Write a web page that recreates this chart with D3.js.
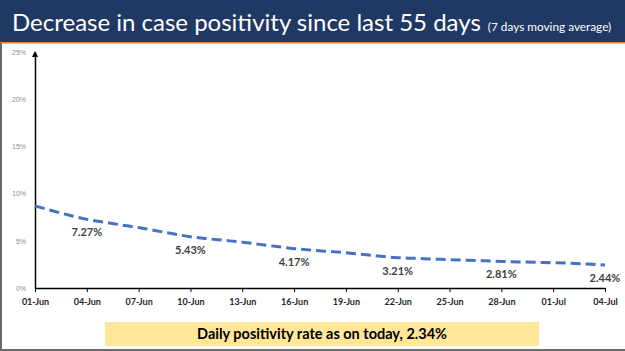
<!DOCTYPE html>
<html>
<head>
<meta charset="utf-8">
<script src="https://cdn.jsdelivr.net/npm/d3@7"></script>
<style>
  html, body { margin: 0; padding: 0; background: #fff; }
  svg { display: block; }
</style>
</head>
<body>
<svg id="chart"></svg>
<script>
// 每日日期（6月1日 - 7月4日）
const days = [
  "2021-06-01", "2021-06-02", "2021-06-03", "2021-06-04", "2021-06-05",
  "2021-06-06", "2021-06-07", "2021-06-08", "2021-06-09", "2021-06-10",
  "2021-06-11", "2021-06-12", "2021-06-13", "2021-06-14", "2021-06-15",
  "2021-06-16", "2021-06-17", "2021-06-18", "2021-06-19", "2021-06-20",
  "2021-06-21", "2021-06-22", "2021-06-23", "2021-06-24", "2021-06-25",
  "2021-06-26", "2021-06-27", "2021-06-28", "2021-06-29", "2021-06-30",
  "2021-07-01", "2021-07-02", "2021-07-03", "2021-07-04",
];
// 7天移动平均阳性率 (%)
const positivity = [
  8.7, 8.18, 7.7, 7.27, 6.98, 6.68, 6.4, 6.07, 5.74, 5.43, 5.22, 5.04, 4.85,
  4.62, 4.39, 4.17, 4.01, 3.88, 3.74, 3.55, 3.37, 3.21, 3.14, 3.07, 3.0, 2.95,
  2.88, 2.81, 2.76, 2.72, 2.68, 2.62, 2.53, 2.44,
];
// 标注的数值
const labelDays = ["2021-06-04", "2021-06-10", "2021-06-16", "2021-06-22", "2021-06-28", "2021-07-04"];
const labelValues = [7.27, 5.43, 4.17, 3.21, 2.81, 2.44];
// 坐标轴刻度
const yTicks = [0, 5, 10, 15, 20, 25];
const xTickDays = [
  "2021-06-01", "2021-06-04", "2021-06-07", "2021-06-10", "2021-06-13", "2021-06-16",
  "2021-06-19", "2021-06-22", "2021-06-25", "2021-06-28", "2021-07-01", "2021-07-04",
];

const W = 625, H = 351;
const parseDate = d3.timeParse("%Y-%m-%d");
const fmt = d3.timeFormat("%d-%b");

const svg = d3.select("#chart").attr("width", W).attr("height", H);

// 标题栏
svg.append("rect").attr("x", 0).attr("y", 0).attr("width", W).attr("height", 42).attr("fill", "#1f3864");
svg.append("rect").attr("x", 0).attr("y", 42).attr("width", W).attr("height", 1.5).attr("fill", "#ed7d31");
const title = svg.append("text")
  .attr("x", 12).attr("y", 31)
  .attr("fill", "#fff")
  .style("font-family", "Lato, 'Open Sans', sans-serif");
title.append("tspan").text("Decrease in case positivity since last 55 days").style("font-size", "24px");
title.append("tspan").text(" (7 days moving average)").attr("dx", 4).style("font-size", "11.8px");

// 边框
svg.append("rect").attr("x", 0).attr("y", 43).attr("width", 2).attr("height", H - 43).attr("fill", "#6b6b6b");
svg.append("rect").attr("x", 0).attr("y", H - 2).attr("width", W).attr("height", 2).attr("fill", "#6b6b6b");

// 比例尺
const x = d3.scaleTime()
  .domain([parseDate(days[0]), parseDate(days[days.length - 1])])
  .range([35, 605]);
const y = d3.scaleLinear().domain([0, 25]).range([288, 52]);

// y轴
const yAxis = svg.append("g")
  .attr("transform", "translate(35,0)")
  .call(d3.axisLeft(y).tickValues(yTicks).tickSize(0).tickPadding(9).tickFormat((d) => d + "%"));
yAxis.select(".domain").attr("stroke", "#000").attr("stroke-width", 1.5);
yAxis.selectAll("text")
  .attr("fill", "#8c8c8c")
  .style("font-family", "'Liberation Sans', Arial, sans-serif")
  .style("font-size", "7px");
// 箭头
svg.append("path")
  .attr("d", d3.line()([[32, y(25) + 5], [35, y(25) - 1], [38, y(25) + 5]]))
  .attr("fill", "#000");

// x轴
const xAxis = svg.append("g")
  .attr("transform", "translate(0,288)")
  .call(d3.axisBottom(x).tickValues(xTickDays.map(parseDate)).tickSizeInner(4).tickSizeOuter(0).tickPadding(7).tickFormat(fmt));
xAxis.select(".domain").attr("stroke", "#000").attr("stroke-width", 1.5);
xAxis.selectAll(".tick line").attr("stroke", "#000").attr("stroke-width", 1);
xAxis.selectAll("text")
  .attr("fill", "#262626")
  .style("font-family", "Lato, 'Open Sans', sans-serif")
  .style("font-weight", "bold")
  .style("font-size", "9px");

// 折线
const line = d3.line()
  .x((d, i) => x(parseDate(days[i])))
  .y((d) => y(d))
  .curve(d3.curveMonotoneX);

svg.append("path")
  .datum(positivity)
  .attr("d", line)
  .attr("fill", "none")
  .attr("stroke", "#4472c4")
  .attr("stroke-width", 3)
  .attr("stroke-dasharray", "10 5");

// 数值标注
svg.selectAll(".val-label")
  .data(labelValues)
  .join("text")
  .attr("class", "val-label")
  .attr("x", (d, i) => x(parseDate(labelDays[i])))
  .attr("y", (d) => y(d) + 17)
  .attr("text-anchor", "middle")
  .attr("fill", "#404040")
  .style("font-family", "Lato, 'Open Sans', sans-serif")
  .style("font-weight", "bold")
  .style("font-size", "11px")
  .text((d) => d.toFixed(2) + "%");

// 底部说明框
svg.append("rect")
  .attr("x", 105).attr("y", 322).attr("width", 434).attr("height", 24)
  .attr("fill", "#ffe699");
svg.append("text")
  .attr("x", 322).attr("y", 339)
  .attr("text-anchor", "middle")
  .attr("fill", "#000")
  .style("font-family", "Lato, 'Open Sans', sans-serif")
  .style("font-weight", "bold")
  .style("font-size", "14.5px")
  .text("Daily positivity rate as on today, 2.34%");
</script>
</body>
</html>
